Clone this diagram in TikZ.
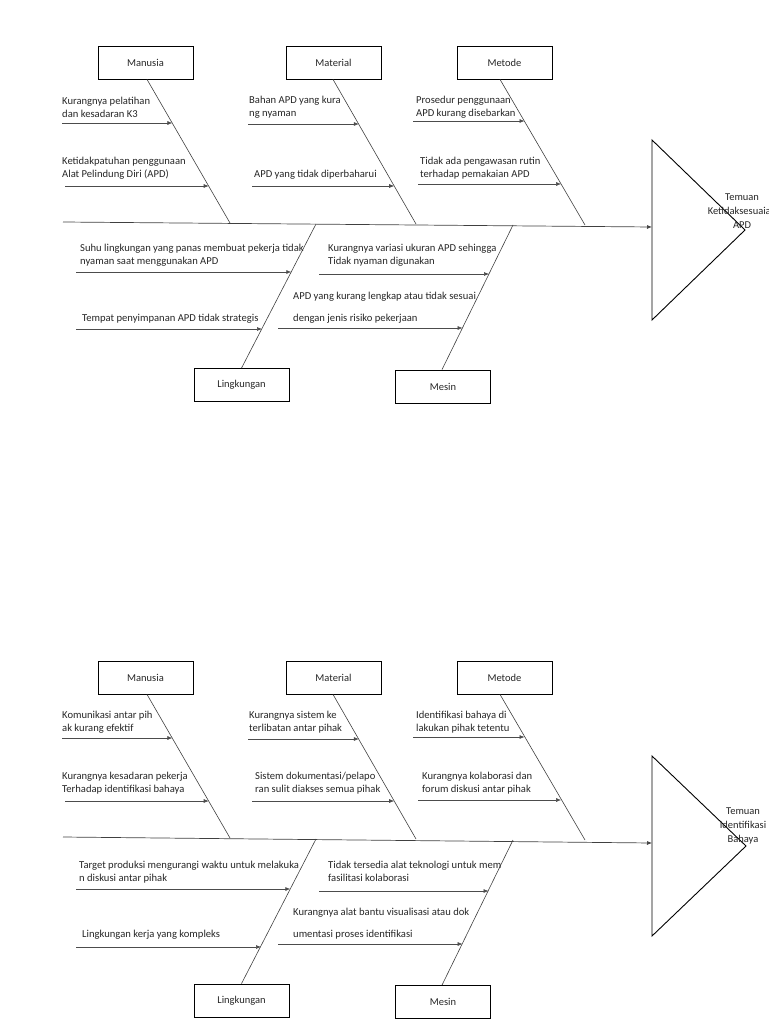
\documentclass[tikz,border=0pt]{standalone}
\usepackage{fontspec}
\setmainfont{Carlito}
\usetikzlibrary{arrows.meta}
\begin{document}
\begin{tikzpicture}[x=1pt,y=-1pt,
  catbox/.style={draw=black,line width=0.8pt,minimum width=95pt,minimum height=33pt,inner sep=0pt,font=\fontsize{10.5}{12}\selectfont,text=black!85},
  cause/.style={anchor=west,align=left,inner sep=0pt,yshift=-2.5pt,font=\fontsize{10.6}{13}\selectfont,text=black!85},
  headtxt/.style={align=center,inner sep=0pt,font=\fontsize{10.5}{14}\selectfont,text=black!85},
  bone/.style={draw=black!75,line width=0.6pt},
  spine/.style={draw=black!75,line width=0.7pt,-{Latex[length=5pt,width=4pt]}},
  feed/.style={draw=black!70,line width=0.6pt,-{Latex[length=5pt,width=4pt]}},
  head/.style={draw=black,line width=0.9pt}]
\useasboundingbox (0,0) rectangle (768,1024);

% ================= Diagram A =================
\node[catbox] (manA) at (145.5,62.5) {Manusia};
\node[catbox] (matA) at (333.5,62.5) {Material};
\node[catbox] (metA) at (504.5,62.5) {Metode};
\node[catbox] (linA) at (241.5,385) {Lingkungan};
\node[catbox] (mesA) at (443,386.5) {Mesin};

\coordinate (spLA) at (63,222);
\coordinate (spRA) at (652,227);
\coordinate (manSA) at (230,223);
\coordinate (matSA) at (416,224);
\coordinate (metSA) at (585,225);
\coordinate (linSA) at (316,224);
\coordinate (mesSA) at (513,225);

\coordinate (tTopA) at (652,140);
\coordinate (tApxA) at (745,230);
\coordinate (tBotA) at (652,320);
\draw[head] (tTopA) -- (tApxA) -- (tBotA) -- cycle;
\node[headtxt] (effA) at (742,211) {Temuan\\Ketidaksesuaian\\APD};

\draw[spine] (spLA) -- (spRA);
\draw[bone] ([xshift=1.5pt]manA.south) -- (manSA);
\draw[bone] ([xshift=-0.5pt]matA.south) -- (matSA);
\draw[bone] ([xshift=-4.5pt]metA.south) -- (metSA);
\draw[bone] (linA.north) -- (linSA);
\draw[bone] ([xshift=-1pt]mesA.north) -- (mesSA);

% causes
\node[cause] (ca1) at (62,104.5) {Kurangnya pelatihan\\dan kesadaran K3};
\node[cause] (ca2) at (62,165.5) {Ketidakpatuhan penggunaan\\Alat Pelindung Diri (APD)};
\node[cause] (ca3) at (249,104.5) {Bahan APD yang kura\\ng nyaman};
\node[cause] (ca4) at (254,172) {APD yang tidak diperbaharui};
\node[cause] (ca5) at (416,104.5) {Prosedur penggunaan\\APD kurang disebarkan};
\node[cause] (ca6) at (420,165.5) {Tidak ada pengawasan rutin\\terhadap pemakaian APD};
\node[cause] (ca7) at (80,253) {Suhu lingkungan yang panas membuat pekerja tidak\\nyaman saat menggunakan APD};
\node[cause] (ca8) at (82,316) {Tempat penyimpanan APD tidak strategis};
\node[cause] (ca9) at (328,253) {Kurangnya variasi ukuran APD sehingga\\Tidak nyaman digunakan};
\node[cause] (ca10) at (293,294) {APD yang kurang lengkap atau tidak sesuai};
\node[cause] (ca11) at (293,316) {dengan jenis risiko pekerjaan};

\coordinate (a1s) at (62,123);   \coordinate (a1e) at (172.4,123);
\coordinate (a2s) at (65,186);   \coordinate (a2e) at (208.7,186);
\coordinate (a3s) at (248,124);  \coordinate (a3e) at (358.8,124);
\coordinate (a4s) at (252,186);  \coordinate (a4e) at (394.2,186);
\coordinate (a5s) at (413,121);  \coordinate (a5e) at (524.5,121);
\coordinate (a6s) at (418,184);  \coordinate (a6e) at (561.1,184);
\coordinate (a7s) at (76,272);   \coordinate (a7e) at (291.3,272);
\coordinate (a8s) at (76,329);   \coordinate (a8e) at (262,329);
\coordinate (a9s) at (319,274);  \coordinate (a9e) at (489,274);
\coordinate (a10s) at (278,328); \coordinate (a10e) at (462.6,328);
\foreach \i in {1,...,10} {\draw[feed] (a\i s) -- (a\i e);}

% ================= Diagram B =================
\node[catbox] (manB) at (145.5,677.5) {Manusia};
\node[catbox] (matB) at (333.5,677.5) {Material};
\node[catbox] (metB) at (504.5,677.5) {Metode};
\node[catbox] (linB) at (241.5,1000.5) {Lingkungan};
\node[catbox] (mesB) at (443,1002) {Mesin};

\coordinate (spLB) at (63,837);
\coordinate (spRB) at (652,843);
\coordinate (manSB) at (230,838);
\coordinate (matSB) at (416,839);
\coordinate (metSB) at (585,840);
\coordinate (linSB) at (316,839);
\coordinate (mesSB) at (513,840);

\coordinate (tTopB) at (652,756);
\coordinate (tApxB) at (746,846);
\coordinate (tBotB) at (652,936);
\draw[head] (tTopB) -- (tApxB) -- (tBotB) -- cycle;
\node[headtxt] (effB) at (743,826) {Temuan\\Identifikasi\\Bahaya};

\draw[spine] (spLB) -- (spRB);
\draw[bone] ([xshift=1.5pt]manB.south) -- (manSB);
\draw[bone] ([xshift=-0.5pt]matB.south) -- (matSB);
\draw[bone] ([xshift=-4.5pt]metB.south) -- (metSB);
\draw[bone] (linB.north) -- (linSB);
\draw[bone] ([xshift=-1pt]mesB.north) -- (mesSB);

\node[cause] (cb1) at (62,720) {Komunikasi antar pih\\ak kurang efektif};
\node[cause] (cb2) at (62,780.5) {Kurangnya kesadaran pekerja\\Terhadap identifikasi bahaya};
\node[cause] (cb3) at (249,720) {Kurangnya sistem ke\\terlibatan antar pihak};
\node[cause] (cb4) at (255,780.5) {Sistem dokumentasi/pelapo\\ran sulit diakses semua pihak};
\node[cause] (cb5) at (416,720) {Identifikasi bahaya di\\lakukan pihak tetentu};
\node[cause] (cb6) at (422,780.5) {Kurangnya kolaborasi dan\\forum diskusi antar pihak};
\node[cause] (cb7) at (79,869.5) {Target produksi mengurangi waktu untuk melakuka\\n diskusi antar pihak};
\node[cause] (cb8) at (82,932) {Lingkungan kerja yang kompleks};
\node[cause] (cb9) at (328,869) {Tidak tersedia alat teknologi untuk mem\\fasilitasi kolaborasi};
\node[cause] (cb10) at (293,910) {Kurangnya alat bantu visualisasi atau dok};
\node[cause] (cb11) at (293,932) {umentasi proses identifikasi};

\coordinate (b1s) at (62,738);   \coordinate (b1e) at (172.4,738);
\coordinate (b2s) at (65,801);   \coordinate (b2e) at (208.7,801);
\coordinate (b3s) at (248,739);  \coordinate (b3e) at (358.8,739);
\coordinate (b4s) at (252,801);  \coordinate (b4e) at (394.2,801);
\coordinate (b5s) at (413,737);  \coordinate (b5e) at (524.5,737);
\coordinate (b6s) at (418,800);  \coordinate (b6e) at (561.1,800);
\coordinate (b7s) at (76,889);   \coordinate (b7e) at (290.3,889);
\coordinate (b8s) at (76,947);   \coordinate (b8e) at (261,947);
\coordinate (b9s) at (319,891);  \coordinate (b9e) at (488.5,891);
\coordinate (b10s) at (278,944); \coordinate (b10e) at (462.6,944);
\foreach \i in {1,...,10} {\draw[feed] (b\i s) -- (b\i e);}
\end{tikzpicture}
\end{document}
